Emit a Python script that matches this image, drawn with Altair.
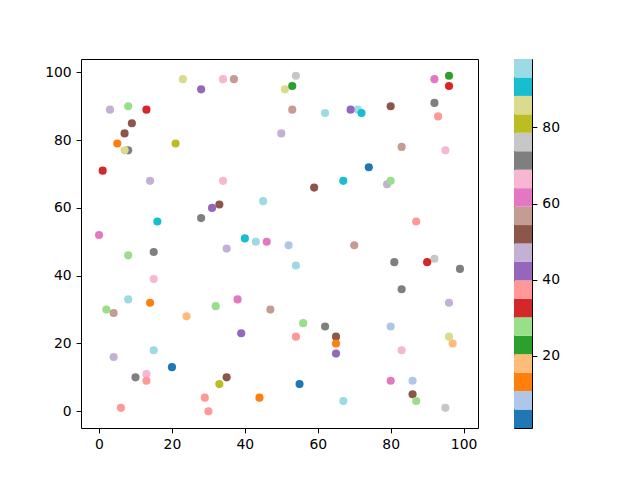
import altair as alt
import pandas as pd

# matplotlib tab20 colours
TAB20 = ["#1f77b4", "#aec7e8", "#ff7f0e", "#ffbb78", "#2ca02c", "#98df8a",
         "#d62728", "#ff9896", "#9467bd", "#c5b0d5", "#8c564b", "#c49c94",
         "#e377c2", "#f7b6d2", "#7f7f7f", "#c7c7c7", "#bcbd22", "#dbdb8d",
         "#17becf", "#9edae5"]

VMIN, VMAX = 1, 98

xs = [23, 34, 37, 28, 3, 8, 13, 9, 7, 5, 8, 7, 21, 1, 14, 34, 45, 33, 31, 28,
      16, 0, 40, 43, 46, 50, 51, 54, 53, 53, 62, 71, 69, 72, 80, 92, 96, 96, 92, 93,
      83, 95, 74, 67, 59, 79, 80, 87, 8, 15, 35, 15, 8, 14, 2, 4, 24, 32, 38, 47,
      39, 15, 4, 20, 13, 10, 13, 35, 33, 29, 30, 6, 44, 52, 70, 54, 81, 92, 90, 99,
      83, 96, 56, 62, 54, 65, 65, 65, 80, 96, 97, 83, 80, 86, 86, 87, 95, 55, 67]
ys = [98, 98, 98, 95, 89, 90, 89, 85, 82, 79, 77, 77, 79, 71, 68, 68, 62, 61, 60, 57,
      56, 52, 51, 50, 50, 82, 95, 99, 96, 89, 88, 89, 89, 88, 90, 98, 99, 96, 91, 87,
      78, 77, 72, 68, 66, 67, 68, 56, 46, 47, 48, 39, 33, 32, 30, 29, 28, 31, 33, 30,
      23, 18, 16, 13, 11, 10, 9, 10, 8, 4, 0, 1, 4, 49, 49, 43, 44, 45, 44, 42,
      36, 32, 26, 25, 22, 22, 20, 17, 25, 22, 20, 18, 9, 9, 5, 3, 1, 8, 3]
cs = [86, 66, 57, 42, 47, 28, 33, 52, 52, 13, 71, 86, 81, 33, 47, 66, 96, 52, 42, 71,
      91, 62, 91, 96, 62, 47, 86, 76, 23, 57, 96, 96, 42, 91, 52, 62, 23, 33, 71, 37,
      57, 66, 3, 91, 52, 47, 28, 37, 28, 71, 47, 66, 96, 13, 28, 57, 18, 28, 62, 57,
      42, 96, 47, 3, 66, 71, 37, 52, 81, 37, 37, 37, 13, 8, 57, 96, 71, 76, 33, 71,
      71, 47, 28, 71, 37, 52, 13, 42, 8, 86, 18, 66, 62, 8, 52, 28, 76, 3, 96]

df = pd.DataFrame({"x": xs, "y": ys, "c": cs})

step = (VMAX - VMIN) / len(TAB20)
cbdf = pd.DataFrame({
    "lo": [VMIN + i * step for i in range(len(TAB20))],
    "hi": [VMIN + (i + 1) * step for i in range(len(TAB20))],
    "col": TAB20,
})

points = alt.Chart(df).mark_circle(size=66, opacity=1).encode(
    x=alt.X("x:Q", scale=alt.Scale(domain=[-4.95, 103.95], nice=False, zero=False),
            axis=alt.Axis(values=[0, 20, 40, 60, 80, 100], title=None, grid=False)),
    y=alt.Y("y:Q", scale=alt.Scale(domain=[-4.95, 103.95], nice=False, zero=False),
            axis=alt.Axis(values=[0, 20, 40, 60, 80, 100], title=None, grid=False)),
    color=alt.Color("c:Q", scale=alt.Scale(type="quantize", domain=[VMIN, VMAX],
                                           range=TAB20, nice=False), legend=None),
).properties(width=397, height=369)

cb = alt.Chart(cbdf).mark_rect().encode(
    y=alt.Y("lo:Q", scale=alt.Scale(domain=[VMIN, VMAX], nice=False, zero=False),
            axis=alt.Axis(orient="right", values=[20, 40, 60, 80], title=None, grid=False)),
    y2="hi:Q",
    x=alt.value(0),
    x2=alt.value(18),
    color=alt.Color("col:N", scale=None),
).properties(width=18, height=369)

chart = alt.hconcat(points, cb, spacing=34).properties(
    padding={"left": 36, "top": 50, "right": 0, "bottom": 0},
    background="white",
).configure_view(stroke="black", strokeWidth=1).configure_axis(
    labelFont="DejaVu Sans", labelFontSize=13.9, labelColor="black",
    tickColor="black", tickSize=4.9, labelPadding=4.9, domain=False,
    tickWidth=1,
)

chart.save("out.html", embed_options={"renderer": "svg", "actions": False})
